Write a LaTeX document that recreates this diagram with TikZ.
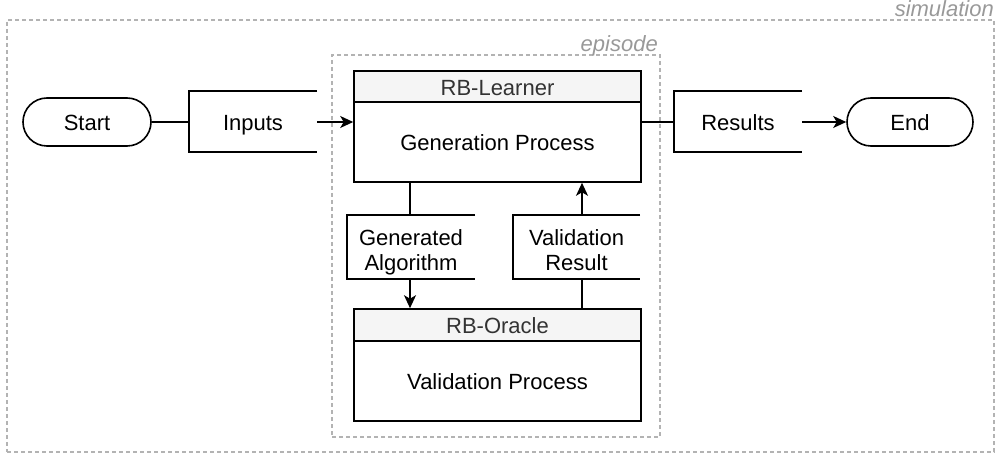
\documentclass[tikz,border=0pt]{standalone}
\usepackage{fontspec}
\setmainfont{Liberation Sans}
\usetikzlibrary{arrows.meta}
\definecolor{dashgray}{HTML}{B3B3B3}
\definecolor{labgray}{HTML}{999999}
\definecolor{headfill}{HTML}{F5F5F5}
\definecolor{headtext}{HTML}{333333}
\newcommand{\topstrut}{\rule{0pt}{26pt}}
\newcommand{\botstrut}{\rule[-4.8pt]{0pt}{4.8pt}}
\begin{document}
\begin{tikzpicture}[x=1pt,y=-1pt,
  every node/.style={font=\fontsize{22}{25}\selectfont, inner sep=0pt, align=center},
  oneline/.style={text height=17.5pt, text depth=0pt},
  blk/.style={line width=1.6pt, line cap=butt},
  arr/.style={line width=1.6pt, -{Stealth[length=13pt,width=12pt,inset=3.5pt]}},
  term/.style={draw, oneline, line width=1.6pt, rounded corners=24pt, minimum height=48pt},
  databox/.style={minimum width=128pt},
  headbox/.style={draw, oneline, line width=1.6pt, fill=headfill, text=headtext, minimum width=287pt, minimum height=31pt},
  bodybox/.style={draw, oneline, line width=1.6pt, minimum width=287pt, minimum height=80pt},
  container/.style={draw=dashgray, line width=1.2pt, dash pattern=on 4pt off 3pt},
  contlabel/.style={text=labgray, font=\fontsize{22}{25}\selectfont\itshape}
]
\useasboundingbox (0,0) rectangle (998,454);

% containers
\node[container, minimum width=987pt, minimum height=432pt] (sim) at (500.5,236) {};
\node[contlabel, anchor=base east] (simlab) at (994,16.5) {simulation};
\node[container, minimum width=328pt, minimum height=382pt] (epi) at (496,246) {};
\node[contlabel, anchor=base east] (epilab) at (658,52) {episode};

% terminals
\node[term, minimum width=128pt] (start) at (87,122) {Start};
\node[term, minimum width=126pt] (end) at (910,122) {End};

% data boxes (open right side)
\node[databox, oneline, minimum height=61pt] (inputs) at (253,121.5) {Inputs};
\draw[blk] (inputs.north east) -- (inputs.north west) -- (inputs.south west) -- (inputs.south east);
\node[databox, oneline, minimum height=61pt] (results) at (738,121.5) {Results};
\draw[blk] (results.north east) -- (results.north west) -- (results.south west) -- (results.south east);
\node[databox, minimum height=64pt] (genalg) at (411,247) {\topstrut Generated\\Algorithm\botstrut};
\draw[blk] (genalg.north east) -- (genalg.north west) -- (genalg.south west) -- (genalg.south east);
\node[databox, minimum width=127pt, minimum height=64pt] (valres) at (576.5,247) {\topstrut Validation\\Result\botstrut};
\draw[blk] (valres.north east) -- (valres.north west) -- (valres.south west) -- (valres.south east);

% learner
\node[headbox] (lhead) at (497.5,86.5) {RB-Learner};
\node[bodybox] (lbody) at (497.5,142) {Generation Process};
% oracle
\node[headbox, minimum height=32pt] (ohead) at (497.5,325) {RB-Oracle};
\node[bodybox] (obody) at (497.5,381) {Validation Process};

% connectors
\draw[blk] (start.east) -- (start.east -| inputs.west);
\draw[arr] (inputs.east |- start.east) -- (start.east -| lbody.west);
\draw[blk] (start.east -| lbody.east) -- (start.east -| results.west);
\draw[arr] (results.east |- end.west) -- (end.west);
\draw[blk] ([xshift=-1pt]genalg.north |- lbody.south) -- ([xshift=-1pt]genalg.north);
\draw[arr] ([xshift=-1pt]genalg.south) -- ([xshift=-1pt]genalg.south |- ohead.north);
\draw[blk] ([xshift=5.5pt]valres.south |- ohead.north) -- ([xshift=5.5pt]valres.south);
\draw[arr] ([xshift=5.5pt]valres.north) -- ([xshift=5.5pt]valres.north |- lbody.south);
\end{tikzpicture}
\end{document}
